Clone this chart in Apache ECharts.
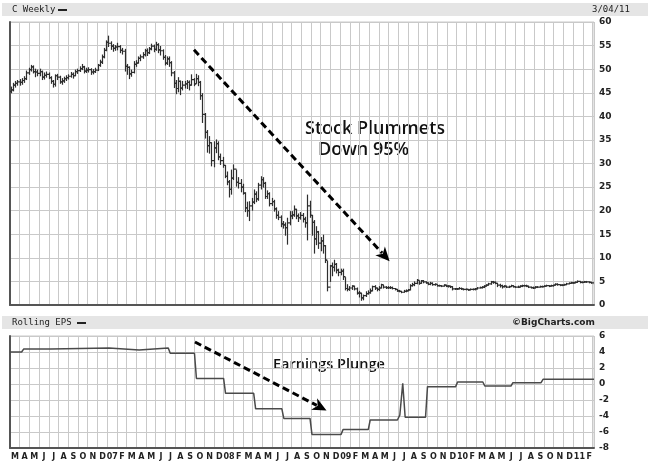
<!DOCTYPE html>
<html><head><meta charset="utf-8">
<script src="https://cdn.jsdelivr.net/npm/echarts@6/dist/echarts.min.js"></script>
<style>html,body{margin:0;padding:0;background:#fff}#c{width:650px;height:463px}</style>
</head><body><div id="c"></div>
<script>
// Month tick labels, March 2006 .. February 2011
var monthLabels = ['M','A','M','J','J','A','S','O','N','D','07','F',
  'M','A','M','J','J','A','S','O','N','D','08','F',
  'M','A','M','J','J','A','S','O','N','D','09','F',
  'M','A','M','J','J','A','S','O','N','D','10','F',
  'M','A','M','J','J','A','S','O','N','D','11','F'];
var priceTicks = [0,5,10,15,20,25,30,35,40,45,50,55,60];
var epsTicks = [-8,-6,-4,-2,0,2,4,6];

// Weekly bars (Fridays) from 2006-03-03 to 2011-03-04
var firstOpen = 45.3;
var weekClose = [
 45.6,46.6,47.0,47.3,47.2, 47.6,48.0,49.2,49.9, 50.5,49.5,49.4,49.1, 49.5,48.3,48.7,48.9,48.2,
 47.4,46.8,48.6,48.3, 47.3,47.5,48.0,48.2, 48.5,48.9,48.6,49.5,49.7, 50.1,50.5,49.6,49.8,
 49.9,49.4,49.5,49.8, 50.8,51.5,52.6,54.0,55.7,
 55.5,54.9,54.4,54.7, 54.8,54.0,53.8,50.6, 50.4,49.0,49.3,51.0,51.3, 52.3,52.6,53.1,53.9,
 53.5,54.3,54.9,54.2, 55.2,54.1,53.9,52.5,51.3, 52.2,51.4,49.2,47.0, 45.9,47.4,46.0,46.6,46.9,
 47.2,46.6,47.8,46.9, 48.0,47.2,44.4,40.4, 36.6,33.8,34.4,30.6,33.3, 34.2,31.4,30.6,29.6,
 27.3,26.1,24.5,26.9, 28.8,26.0,25.8,25.0,23.7, 20.6,20.0,21.0,21.8, 23.5,22.5,25.4,26.6,
 25.8,23.0,23.6,21.5,21.9, 20.4,19.0,18.6,17.2, 17.0,16.4,17.4,18.9, 19.1,20.3,18.9,18.5,19.0,
 18.2,17.4,21.0,19.0, 17.5,14.0,15.5,13.1,13.6, 12.6,9.5,3.8,8.3, 8.0,8.6,7.4,6.9,
 7.2,6.0,3.5,3.3,3.6, 4.0,3.4,2.5,2.5, 1.5,2.0,2.4,2.6, 3.0,3.9,3.6,3.3, 3.6,4.3,3.8,3.7,3.7,
 3.7,3.5,3.3,3.0, 2.9,2.7,2.9,3.0,3.2, 4.1,4.3,4.6,5.2, 4.6,5.1,4.9,4.7, 4.4,4.6,4.3,4.4,4.1,
 4.1,4.0,4.2,4.0, 4.0,3.9,3.4,3.4,
 3.4,3.5,3.4,3.3,3.3, 3.2,3.3,3.3,3.4, 3.6,3.7,3.8,4.0, 4.2,4.5,4.9,4.8,4.6, 4.2,4.1,3.9,4.0,
 3.8,3.9,4.1,3.9, 3.8,3.8,4.0,4.1,4.1, 4.0,3.8,3.7,3.6, 3.8,3.8,3.9,3.9, 4.0,4.1,4.0,4.1,4.2,
 4.4,4.3,4.2,4.2, 4.3,4.5,4.6,4.7,4.7,
 4.8,5.0,4.8,4.8, 4.9,4.9,4.8,4.7, 4.5];
var weekHigh = [
 46.2,47.0,47.4,47.6,47.8, 48.0,48.4,49.6,50.2, 50.8,50.7,50.0,49.8, 50.0,49.6,49.2,49.4,49.2,
 48.4,47.6,48.8,48.9, 48.5,48.0,48.3,48.6, 48.8,49.3,49.2,49.8,50.0, 50.5,51.0,50.6,50.2,
 50.3,50.1,49.9,50.2, 51.0,51.9,53.0,54.4,56.0,
 57.0,55.8,55.2,55.0, 55.5,55.0,54.4,54.2, 51.0,50.5,49.8,51.6,51.8, 52.6,53.0,53.5,54.2,
 54.3,54.6,55.3,55.1, 55.7,55.4,54.8,54.1,52.9, 52.6,52.6,51.6,49.5, 47.6,48.2,47.5,47.4,47.4,
 47.6,47.5,48.8,48.0, 48.9,48.6,47.4,44.8, 40.6,37.0,35.7,34.4,34.6, 35.0,34.6,32.0,31.3,
 29.6,28.2,26.4,28.6, 29.7,28.6,27.0,26.6,25.6, 23.8,21.8,21.9,22.6, 24.4,24.0,25.8,27.2,
 27.0,26.0,24.2,23.8,22.6, 22.2,20.6,19.8,18.9, 17.7,17.4,18.4,19.8, 19.8,21.0,20.3,19.3,19.6,
 19.4,18.6,23.3,22.0, 19.0,17.9,16.6,15.6,14.3, 14.8,12.6,9.3,8.4, 8.9,9.5,8.8,7.6,
 7.6,7.6,5.8,4.3,3.9, 4.1,4.0,3.6,2.9, 2.5,2.1,2.8,3.0, 3.4,4.0,4.1,3.6, 3.9,4.4,4.2,3.9,3.9,
 3.9,3.8,3.5,3.3, 3.1,2.9,3.1,3.2,3.3, 4.3,4.6,4.9,5.4, 5.1,5.2,5.2,4.9, 4.7,4.8,4.7,4.5,4.3,
 4.2,4.1,4.3,4.2, 4.1,4.0,3.9,3.5,
 3.5,3.7,3.6,3.4,3.4, 3.3,3.4,3.4,3.5, 3.7,3.8,3.9,4.1, 4.3,4.6,5.0,5.0,4.9, 4.6,4.4,4.2,4.1,
 4.0,4.0,4.2,4.1, 3.9,4.0,4.1,4.2,4.2, 4.2,4.0,3.8,3.8, 3.9,3.9,4.0,4.0, 4.1,4.2,4.1,4.2,4.2,
 4.5,4.5,4.3,4.3, 4.4,4.6,4.7,4.8,4.8,
 4.9,5.1,5.0,4.9, 5.0,5.0,4.9,4.8, 4.7];
var weekLow = [
 45.0,45.4,46.2,46.6,46.6, 46.8,47.2,47.8,48.9, 49.6,49.2,48.4,48.6, 48.6,47.8,47.9,48.3,48.0,
 47.0,46.2,46.4,47.8, 47.0,46.8,47.2,47.6, 47.9,48.3,48.1,48.6,49.1, 49.5,49.9,49.2,49.3,
 49.4,48.9,49.0,49.3, 49.7,50.6,51.2,52.4,53.9,
 54.8,54.2,53.8,54.0, 54.1,53.5,53.2,49.6, 48.9,48.0,48.5,49.2,50.6, 51.3,51.8,52.3,52.8,
 52.9,53.3,54.1,53.7, 54.0,53.5,53.0,52.1,50.9, 51.0,50.6,48.6,46.1, 44.8,45.2,44.6,45.6,46.0,
 45.9,45.6,46.6,46.5, 47.0,46.5,43.6,38.7, 35.4,32.4,32.2,29.5,29.3, 32.3,30.8,29.8,29.2,
 27.0,25.5,22.9,23.5, 26.6,25.2,24.8,24.0,23.5, 19.8,18.8,17.9,20.1, 21.5,21.9,22.2,24.6,
 25.0,22.6,22.6,21.0,21.1, 19.9,18.4,18.1,16.6, 16.3,14.8,12.9,17.0, 18.3,18.8,18.3,17.7,18.2,
 17.6,16.5,13.8,18.6, 14.8,11.0,12.8,12.0,11.5, 11.0,9.0,3.0,5.0, 6.2,7.2,6.8,6.2,
 6.4,5.4,3.2,3.0,3.1, 3.3,3.2,2.3,1.7, 1.0,1.1,1.8,2.3, 2.5,3.0,3.3,3.0, 3.1,3.6,3.6,3.5,3.5,
 3.5,3.4,3.2,2.9, 2.8,2.6,2.7,2.8,3.0, 3.2,4.0,4.1,4.5, 4.4,4.6,4.7,4.6, 4.3,4.3,4.2,4.2,4.0,
 4.0,3.9,4.0,3.9, 3.8,3.7,3.2,3.3,
 3.3,3.4,3.3,3.2,3.2, 3.1,3.2,3.2,3.2, 3.4,3.6,3.6,3.7, 4.0,4.2,4.4,4.6,4.5, 3.9,3.8,3.6,3.8,
 3.7,3.7,3.9,3.8, 3.7,3.7,3.8,3.9,4.0, 3.9,3.7,3.6,3.5, 3.6,3.7,3.8,3.8, 3.9,4.0,3.9,4.0,4.0,
 4.2,4.2,4.1,4.1, 4.2,4.3,4.5,4.6,4.6,
 4.7,4.8,4.7,4.7, 4.8,4.8,4.7,4.6, 4.4];

// Rolling EPS breakpoints (x in months since 2006-03-01)
var epsMonths = [0,1.2,1.4,4.2,4.4,10.2,10.4,13.3,13.5,16.3,16.5,19.0,19.2,22.0,22.2,25.1,25.3,28.0,28.2,30.9,31.1,34.1,34.3,36.9,37.1,39.9,40.15,40.45,40.7,42.8,43.0,45.9,46.1,48.7,48.9,51.6,51.8,54.7,54.9,60.15];
var epsValues = [4.0,4.0,4.36,4.36,4.5,4.5,4.26,4.26,4.5,4.5,3.85,3.85,0.7,0.7,-1.17,-1.17,-3.1,-3.1,-4.3,-4.3,-6.3,-6.3,-5.7,-5.7,-4.5,-4.5,-3.9,0.1,-4.15,-4.15,-0.33,-0.33,0.25,0.25,-0.25,-0.25,0.17,0.17,0.58,0.58];

// Annotation arrows (data coordinates: [fromMonth, fromValue, toMonth, toValue])
var stockArrow = [18.95, 54.1, 39.1, 9.3];
var epsArrow = [19.05, 5.25, 32.6, -3.3];

var X_MAX = 60.15;

function monthX(i) {
  var d = new Date(Date.UTC(2006, 2, 3) + i * 7 * 86400000);
  var y = d.getUTCFullYear(), mo = d.getUTCMonth();
  var dim = new Date(Date.UTC(y, mo + 1, 0)).getUTCDate();
  return (y - 2006) * 12 + mo - 2 + (d.getUTCDate() - 0.5) / dim;
}

var ohlc = [];
for (var i = 0; i < weekClose.length; i++) {
  var o = i === 0 ? firstOpen : weekClose[i - 1];
  ohlc.push([monthX(i), o, weekClose[i], weekLow[i], weekHigh[i]]);
}
var epsData = epsMonths.map(function (m, k) { return [m, epsValues[k]]; });

var GRID = '#c9c9c9', AX = '#555';
var chart = echarts.init(document.getElementById('c'), null, {renderer: 'canvas'});

function xValAxis(gi) {
  return {type: 'value', gridIndex: gi, min: 0, max: X_MAX, interval: 1,
    axisLabel: {show: false}, axisTick: {show: false},
    axisLine: {show: true, onZero: false, lineStyle: {color: AX, width: 2}},
    splitLine: {show: true, lineStyle: {color: GRID, width: 1}}};
}
function yAxis(gi, mn, mx, iv) {
  return {type: 'value', gridIndex: gi, min: mn, max: mx, interval: iv, position: 'right',
    axisLine: {show: true, lineStyle: {color: AX, width: 2}}, axisTick: {show: false},
    axisLabel: {color: '#222', fontFamily: 'DejaVu Sans', fontWeight: 'bold', fontSize: 9, margin: 5},
    splitLine: {show: true, lineStyle: {color: GRID, width: 1}}};
}

function arrowItem(params, api) {
  var p1 = api.coord([api.value(0), api.value(1)]);
  var p2 = api.coord([api.value(2), api.value(3)]);
  var dx = p2[0] - p1[0], dy = p2[1] - p1[1];
  var len = Math.sqrt(dx * dx + dy * dy);
  var ux = dx / len, uy = dy / len, nx = -uy, ny = ux;
  var L = 14, W = 6.5;
  var bx = p2[0] - ux * L, by = p2[1] - uy * L;
  return {type: 'group', children: [
    {type: 'line', shape: {x1: p1[0], y1: p1[1], x2: bx + ux * 3, y2: by + uy * 3},
     style: {stroke: '#000', lineWidth: 3, lineDash: [7, 4]}},
    {type: 'polygon', shape: {points: [[p2[0], p2[1]], [bx + nx * W, by + ny * W], [bx + ux * 4, by + uy * 4], [bx - nx * W, by - ny * W]]},
     style: {fill: '#000'}}
  ]};
}

var option = {
  animation: false,
  backgroundColor: '#fff',
  grid: [
    {left: 10, top: 22, width: 584, height: 283, show: true, borderColor: GRID, borderWidth: 1},
    {left: 10, top: 336, width: 584, height: 112, show: true, borderColor: GRID, borderWidth: 1}
  ],
  xAxis: [xValAxis(0), xValAxis(1),
    {type: 'category', gridIndex: 1, data: monthLabels, position: 'bottom',
     axisLine: {show: false}, axisTick: {show: false}, splitLine: {show: false},
     axisLabel: {interval: 0, color: '#222', fontFamily: 'DejaVu Sans', fontWeight: 'bold', fontSize: 8, margin: 5}}],
  yAxis: [yAxis(0, 0, 60, 5), yAxis(1, -8, 6, 2)],
  graphic: [
    {type: 'rect', shape: {x: 2, y: 3, width: 646, height: 13}, style: {fill: '#e5e5e5'}, z: -1},
    {type: 'rect', shape: {x: 2, y: 316, width: 646, height: 13}, style: {fill: '#e5e5e5'}, z: -1},
    {type: 'text', left: 12, top: 5, style: {text: 'C Weekly', font: '9px "DejaVu Sans Mono"', fill: '#222'}},
    {type: 'rect', shape: {x: 58, y: 9, width: 9, height: 2}, style: {fill: '#222'}},
    {type: 'text', left: 592, top: 5, style: {text: '3/04/11', font: '9px "DejaVu Sans Mono"', fill: '#222'}},
    {type: 'text', left: 12, top: 318, style: {text: 'Rolling EPS', font: '9px "DejaVu Sans Mono"', fill: '#222'}},
    {type: 'rect', shape: {x: 77, y: 322, width: 9, height: 2}, style: {fill: '#222'}},
    {type: 'text', left: 512, top: 318, style: {text: '\u00A9BigCharts.com', font: 'bold 9px "DejaVu Sans"', fill: '#222'}},
    {type: 'text', left: 305, top: 120, style: {text: 'Stock Plummets', font: '600 18px "Open Sans"', fill: '#111'}},
    {type: 'text', left: 318, top: 141, style: {text: 'Down 95%', font: '600 18px "Open Sans"', fill: '#111'}},
    {type: 'text', left: 273, top: 357, style: {text: 'Earnings Plunge', font: '600 14.5px "Open Sans"', fill: '#111'}}
  ],
  series: [
    {type: 'custom', xAxisIndex: 0, yAxisIndex: 0, data: ohlc, clip: true,
     encode: {x: 0, y: [1, 2, 3, 4]},
     renderItem: function (params, api) {
       var x = api.value(0);
       var pl = api.coord([x, api.value(3)]), ph = api.coord([x, api.value(4)]);
       var po = api.coord([x, api.value(1)]), pc = api.coord([x, api.value(2)]);
       var px = Math.round(pl[0]) + 0.5;
       var st = {stroke: '#2e2e2e', lineWidth: 1.2};
       return {type: 'group', children: [
         {type: 'line', shape: {x1: px, y1: ph[1] - 0.5, x2: px, y2: pl[1] + 0.5}, style: st},
         {type: 'line', shape: {x1: px - 1.5, y1: po[1], x2: px, y2: po[1]}, style: st},
         {type: 'line', shape: {x1: px, y1: pc[1], x2: px + 1.5, y2: pc[1]}, style: st}
       ]};
     }},
    {type: 'line', xAxisIndex: 1, yAxisIndex: 1, data: epsData, symbol: 'none', silent: true,
     lineStyle: {color: '#4a4a4a', width: 1.5}},
    {type: 'custom', xAxisIndex: 0, yAxisIndex: 0, data: [stockArrow], clip: false, silent: true, z: 5,
     encode: {x: [0, 2], y: [1, 3]}, renderItem: arrowItem},
    {type: 'custom', xAxisIndex: 1, yAxisIndex: 1, data: [epsArrow], clip: false, silent: true, z: 5,
     encode: {x: [0, 2], y: [1, 3]}, renderItem: arrowItem}
  ]
};
if (weekClose.length !== 262 || weekHigh.length !== 262 || weekLow.length !== 262) {
  option.graphic.push({type: 'text', left: 200, top: 200, style: {text: 'LEN ' + weekClose.length + ' ' + weekHigh.length + ' ' + weekLow.length, font: '20px sans-serif', fill: 'red'}});
}
chart.setOption(option);
</script></body></html>
